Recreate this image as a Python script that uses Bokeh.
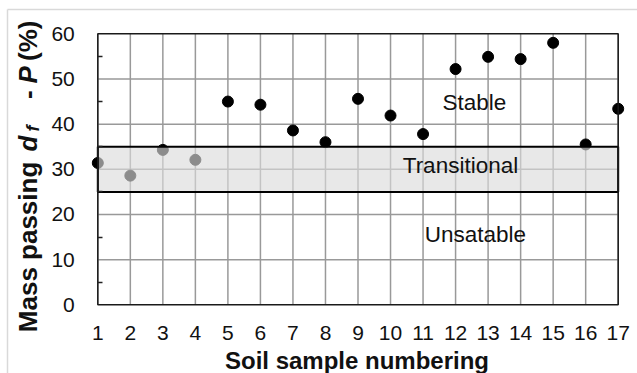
import math
from bokeh.plotting import figure
from bokeh.models import Range1d, FixedTicker, ColumnDataSource, LinearAxis
from bokeh.core.properties import value
from bokeh.embed import file_html
from bokeh.resources import INLINE

# ---- data ----
samples = list(range(1, 18))
mass_passing = [31.4, 28.6, 34.3, 32.1, 45.0, 44.3, 38.6, 36.0, 45.6, 41.9,
                37.8, 52.2, 54.9, 54.4, 58.0, 35.5, 43.4]
y_ticks = [0, 10, 20, 30, 40, 50, 60]
y_minor = [5, 15, 25, 35, 45, 55]
band = [25, 35]                       # transitional zone
zone_names = ["Stable", "Transitional", "Unsatable"]
zone_x = [12.58, 12.15, 12.61]
zone_y = [44.86, 30.78, 15.63]
x_title = "Soil sample numbering"
y_title_parts = ["Mass passing ", "d", "f", "-", "P", "(%)"]
y_title_styles = ["bold", "bold italic", "bold italic", "bold", "bold italic", "bold"]

FONT = "Liberation Sans"
XMIN, XMAX = samples[0], samples[-1]
YMIN, YMAX = y_ticks[0], y_ticks[-1]
BORDER = "#d9d9d9"
TXT = "#111111"
W, H = 637, 373

# pixel geometry of the plot area inside the canvas
PX_X1, PX_PER_X = 97.3, 32.525      # canvas x of sample 1, px per sample
PX_Y0, PX_PER_Y = 304.3, 4.5166     # canvas y of value 0, px per unit

def to_data(px, py):
    return 1 + (px - PX_X1) / PX_PER_X, (PX_Y0 - py) / PX_PER_Y

x0, y_top = to_data(0, 0)
x1, y_bot = to_data(W, H)

p = figure(width=W, height=H, output_backend="svg", toolbar_location=None,
           x_range=Range1d(x0, x1), y_range=Range1d(y_bot, y_top), title=None,
           x_axis_location=None, y_axis_location=None, min_border=0)
p.outline_line_color = None
p.background_fill_color = "white"
p.border_fill_color = "white"
p.xgrid.visible = False
p.ygrid.visible = False

# axes fixed at the plot-area edges
xax = LinearAxis(fixed_location=YMIN, ticker=FixedTicker(ticks=samples))
yax = LinearAxis(fixed_location=XMIN,
                 ticker=FixedTicker(ticks=y_ticks, minor_ticks=y_minor))
for ax in (xax, yax):
    ax.axis_line_color = None
    ax.major_tick_line_color = None
    ax.major_label_text_font = FONT
    ax.major_label_text_font_size = "21px"
    ax.major_label_text_color = TXT
xax.minor_tick_line_color = None
yax.minor_tick_in = 5
yax.minor_tick_out = 0
yax.minor_tick_line_color = "#222222"
yax.minor_tick_line_width = 1.3
xax.major_label_standoff = 15
yax.major_label_standoff = 17
p.add_layout(xax, "below")
p.add_layout(yax, "left")

# outer chart-area border (light grey, top and left)
bx, by = to_data(7, 9)
p.segment(x0=[bx, bx], y0=[by, by], x1=[x1, bx], y1=[by, y_bot],
          line_color=BORDER, line_width=1.5)

# grid lines
inner_y = y_ticks[1:-1]
p.segment(x0=samples, y0=[YMIN] * len(samples), x1=samples, y1=[YMAX] * len(samples),
          line_color="#999999", line_width=1.5)
p.segment(x0=[XMIN] * len(inner_y), y0=inner_y, x1=[XMAX] * len(inner_y), y1=inner_y,
          line_color="#999999", line_width=1.5)

# points
p.scatter(samples, mass_passing, size=11, color="black")

# transitional band (semi-transparent, over the points)
p.quad(left=XMIN, right=XMAX, bottom=band[0], top=band[1],
       fill_color="#dbdbdb", fill_alpha=0.64, line_color="black", line_width=2)

# plot-area frame
p.quad(left=XMIN, right=XMAX, bottom=YMIN, top=YMAX, fill_color=None,
       line_color="#1a1a1a", line_width=1.5)

# zone labels
p.text(x=zone_x, y=zone_y, text=zone_names, text_align="center",
       text_baseline="middle", text_font=value(FONT),
       text_font_size="22.5px", text_color=TXT)

# x title
tx, ty = to_data(356.5, 359.5)
p.text(x=[tx], y=[ty], text=[x_title], text_align="center", text_baseline="middle",
       text_font=value(FONT), text_font_size="24px", text_font_style="bold",
       text_color=TXT)

# rotated y title built from styled pieces (canvas px positions along the text)
piece_px = [27, 27, 32, 27, 27, 27]
piece_py = [331.7, 151.0, 131.0, 98.5, 83.0, 60.5]
piece_sz = ["26px", "26px", "18px", "26px", "26px", "26px"]
pts = [to_data(a, b) for a, b in zip(piece_px, piece_py)]
src = ColumnDataSource(dict(x=[q[0] for q in pts], y=[q[1] for q in pts],
                            text=y_title_parts, style=y_title_styles, size=piece_sz))
p.text(x="x", y="y", text="text", source=src, angle=math.pi / 2,
       text_align="left", text_baseline="middle", text_font=value(FONT),
       text_font_style="style", text_font_size="size", text_color=TXT)

open("out.html", "w").write(file_html(p, INLINE))
